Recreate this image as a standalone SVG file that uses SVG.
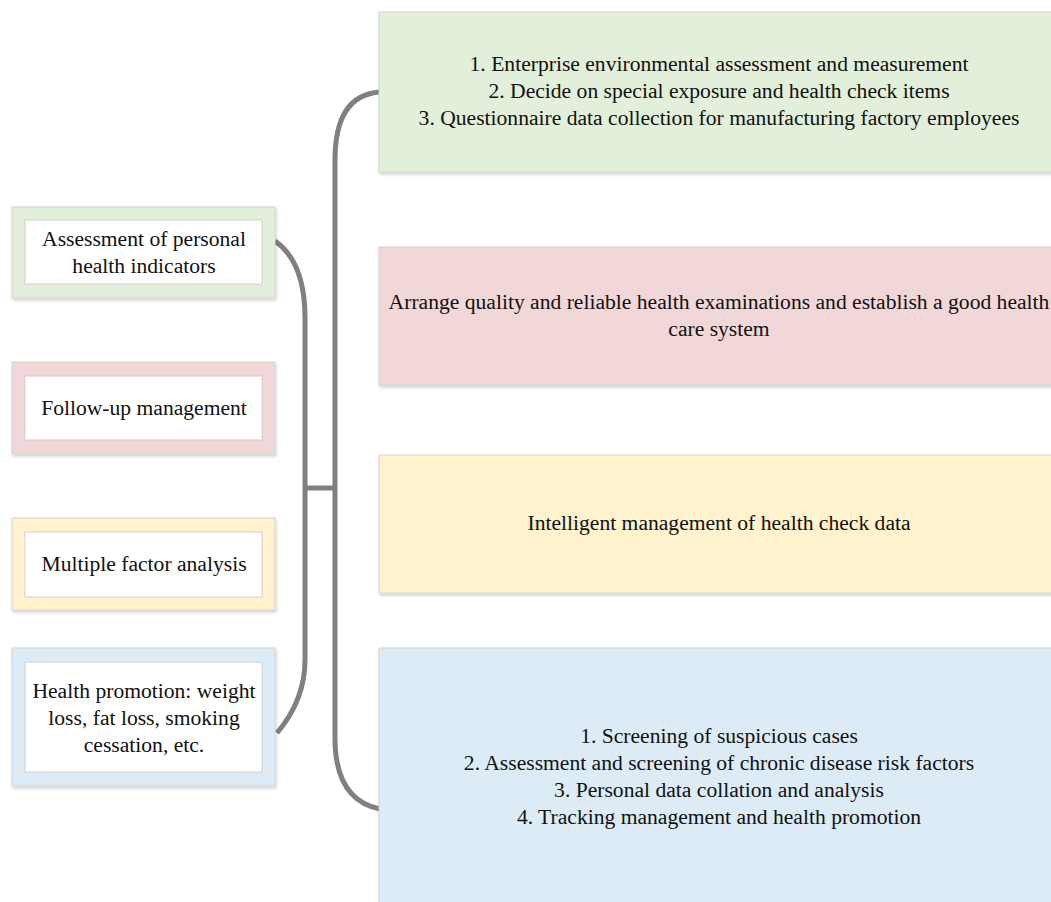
<svg xmlns="http://www.w3.org/2000/svg" width="1051" height="902" viewBox="0 0 1051 902">
<defs>
<filter id="sh" x="-5%" y="-5%" width="110%" height="115%">
<feDropShadow dx="1" dy="2" stdDeviation="1.5" flood-color="#000" flood-opacity="0.18"/>
</filter>
</defs>
<style>
.t{font-family:"Liberation Serif","Times New Roman",serif;font-size:21.6px;fill:#111;text-anchor:middle}
.ob{stroke:#d4d4d4;stroke-width:1;filter:url(#sh)}
.in{fill:#fff;stroke:#d0d0d0;stroke-width:1}
.g{fill:#e2efda}.p{fill:#f2d7d9}.y{fill:#fff2cc}.b{fill:#ddebf7}
.c{fill:none;stroke:#808080;stroke-width:5;stroke-linecap:butt}
</style>
<rect width="1051" height="902" fill="#fff"/>
<g id="connectors">
<path class="c" d="M275,241 Q305,262 305,318 L305,660 Q305,700 277,733"/>
<path class="c" d="M380,92 Q335,95 335,160 L335,738 Q335,800 380,809"/>
<path class="c" d="M305,488 L335,488"/>
</g>
<g id="left1">
<rect class="ob g" x="12" y="207" width="263" height="91"/>
<rect class="in" x="25" y="220" width="237" height="64"/>
<text class="t" x="144" y="246">Assessment of personal</text>
<text class="t" x="144" y="273">health indicators</text>
</g>
<g id="left2">
<rect class="ob p" x="12" y="362" width="263" height="92"/>
<rect class="in" x="25" y="376" width="237" height="64"/>
<text class="t" x="144" y="415">Follow-up management</text>
</g>
<g id="left3">
<rect class="ob y" x="12" y="518" width="263" height="92"/>
<rect class="in" x="25" y="532" width="237" height="65"/>
<text class="t" x="144" y="571">Multiple factor analysis</text>
</g>
<g id="left4">
<rect class="ob b" x="12" y="648" width="263" height="138"/>
<rect class="in" x="25" y="662" width="237" height="110"/>
<text class="t" x="144" y="698">Health promotion: weight</text>
<text class="t" x="144" y="725">loss, fat loss, smoking</text>
<text class="t" x="144" y="752">cessation, etc.</text>
</g>
<g id="right1">
<rect class="ob g" x="379" y="12" width="690" height="160"/>
<text class="t" x="719" y="71">1. Enterprise environmental assessment and measurement</text>
<text class="t" x="719" y="98">2. Decide on special exposure and health check items</text>
<text class="t" x="719" y="125">3. Questionnaire data collection for manufacturing factory employees</text>
</g>
<g id="right2">
<rect class="ob p" x="379" y="247" width="690" height="138"/>
<text class="t" x="719" y="309">Arrange quality and reliable health examinations and establish a good health</text>
<text class="t" x="719" y="336">care system</text>
</g>
<g id="right3">
<rect class="ob y" x="379" y="455" width="690" height="138"/>
<text class="t" x="719" y="530">Intelligent management of health check data</text>
</g>
<g id="right4">
<rect class="ob b" x="379" y="648" width="690" height="270"/>
<text class="t" x="719" y="743">1. Screening of suspicious cases</text>
<text class="t" x="719" y="770">2. Assessment and screening of chronic disease risk factors</text>
<text class="t" x="719" y="797">3. Personal data collation and analysis</text>
<text class="t" x="719" y="824">4. Tracking management and health promotion</text>
</g>
</svg>
